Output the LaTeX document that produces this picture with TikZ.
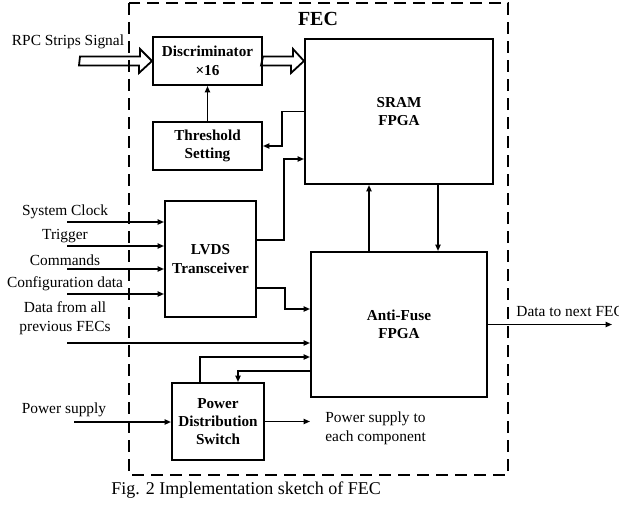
\documentclass[tikz,border=0pt]{standalone}
\usepackage{fontspec}
\setmainfont{Liberation Serif}
\usetikzlibrary{arrows.meta, positioning, calc}

\begin{document}
\begin{tikzpicture}[
    x=0.5pt, y=-0.5pt,
    font=\fontsize{7.7}{9.5}\selectfont,
    block/.style={rectangle, draw=black, line width=1pt, align=center, inner sep=1pt, font=\fontsize{7.6}{9.2}\selectfont\bfseries},
    arrow/.style={-{Triangle[length=3.2pt, width=2.6pt]}, line width=0.75pt},
    fat/.style={line width=0.9pt, line join=miter},
    fecbox/.style={line width=1pt, dash pattern=on 6pt off 3.5pt},
    lbl/.style={inner sep=1pt, anchor=south, align=center}
]
\useasboundingbox (0,0) rectangle (619,508);

% FEC frame
\draw[fecbox] (129,3) rectangle (508,475);
\node (fec) [font=\fontsize{10}{12}\selectfont\bfseries] at (318,19) {FEC};

% blocks
\node (disc) [block, minimum width=54.5pt, minimum height=24pt] at (207.5,61) {Discriminator\\×16};
\node (thr) [block, minimum width=54.5pt, minimum height=24pt] at (207.5,146) {Threshold\\Setting};
\node (sram) [block, minimum width=94pt, minimum height=72.5pt] at (399,111.5) {SRAM\\FPGA};
\node (lvds) [block, minimum width=45.5pt, minimum height=58pt] at (210.5,259) {LVDS\\Transceiver};
\node (afuse) [block, minimum width=88pt, minimum height=72.5pt] at (399,324.5) {Anti-Fuse\\FPGA};
\node (pds) [block, minimum width=46pt, minimum height=38.5pt] at (218,421.5) {Power\\Distribution\\Switch};

% strip signals
\coordinate (rpcin) at (80,61);
\node (rpclbl) [lbl] at (68,51) {RPC Strips Signal};
\draw[fat] (rpcin) ++(0,-4.5) -- ++(60,0) -- ++(0,-7.5) -- (disc.west) -- ++(-13,12) -- ++(0,-7.5) -- ++(-60,0) -- cycle;
\draw[fat] (disc.east) ++(0,-4.5) -- ++(30,0) -- ++(0,-7.5) -- (sram.west |- disc.east) -- ++(-13,12) -- ++(0,-7.5) -- ++(-30,0) -- cycle;
\draw[arrow] (thr.north) -- (disc.south);
\draw[arrow] (sram.west) -- ++(-22,0) |- (thr.east);

% LVDS inputs
\coordinate (clkin) at (67,222);
\coordinate (trgin) at (67,246);
\coordinate (cmdin) at (67,269);
\coordinate (cfgin) at (67,294);
\node (clklbl) [lbl] at (65,221) {System Clock};
\node (trglbl) [lbl] at (65,245) {Trigger};
\node (cmdlbl) [lbl] at (65,268) {Commands};
\node (cfglbl) [lbl] at (65,293) {Configuration data};
\draw[arrow] (clkin) -- (clkin -| lvds.west);
\draw[arrow] (trgin) -- (trgin -| lvds.west);
\draw[arrow] (cmdin) -- (cmdin -| lvds.west);
\draw[arrow] (cfgin) -- (cfgin -| lvds.west);
\draw[arrow] ($(lvds.east)+(0,-19)$) -- ++(27,0) |- ($(sram.west)+(0,47.5)$);
\draw[arrow] ($(lvds.east)+(0,29)$) -- ++(28,0) |- ($(afuse.west)+(0,-15.5)$);

% FPGA links
\draw[arrow] ($(afuse.north)+(-30,0)$) -- ($(sram.south)+(-30,0)$);
\draw[arrow] ($(sram.south)+(39,0)$) -- ($(afuse.north)+(39,0)$);

% data chain
\coordinate (previn) at (67,343);
\node (prevlbl) [lbl] at (65,337) {Data from all\\previous FECs};
\draw[arrow] (previn) -- (previn -| afuse.west);
\coordinate (nextout) at (612,325);
\node (nextlbl) [inner sep=1pt, anchor=west] at (514,311) {Data to next FEC};
\draw[arrow] (afuse.east) -- (afuse.east -| nextout);

% power
\coordinate (pwrin) at (74,422);
\node (pwrlbl) [lbl] at (64,419) {Power supply};
\draw[arrow] (pwrin) -- (pwrin -| pds.west);
\coordinate (pwrout) at (310,422);
\node (outlbl) [inner sep=1pt, anchor=west, align=left] at (323,428) {Power supply to\\each component};
\draw[arrow] (pds.east) -- (pds.east -| pwrout);
\draw[arrow] ($(pds.north)+(-18,0)$) |- ($(afuse.west)+(0,32.5)$);
\draw[arrow] ($(afuse.west)+(0,46.5)$) -| ($(pds.north)+(20,0)$);

% caption
\node (cap) [font=\fontsize{9}{11}\selectfont] at (246,490) {Fig. 2 Implementation sketch of FEC};
\end{tikzpicture}
\end{document}
